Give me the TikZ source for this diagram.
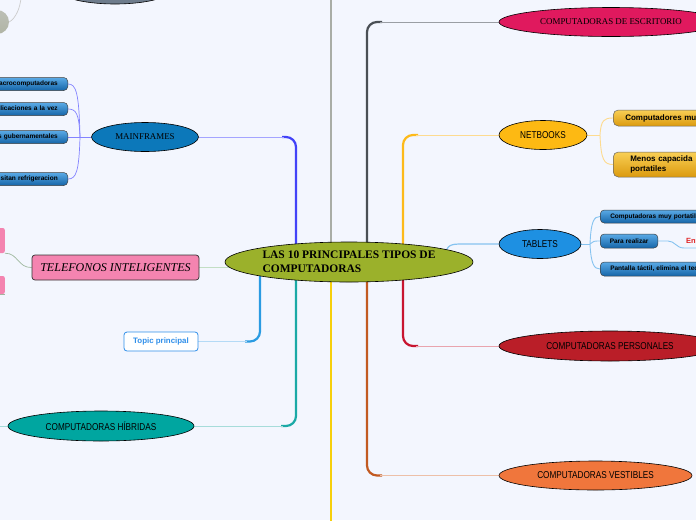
\documentclass[tikz,border=0pt]{standalone}
\usepackage{fontspec}
\setmainfont{Liberation Serif}
\setsansfont{Liberation Sans}
\newfontfamily\condfont[FakeStretch=0.82]{Liberation Sans}
\usetikzlibrary{shapes.geometric}
\definecolor{bgc}{HTML}{F3F6FE}
\definecolor{cenC}{HTML}{9BB12B}
\definecolor{mfC}{HTML}{0C78BA}
\definecolor{bxTop}{HTML}{5AAAE6}
\definecolor{bxBot}{HTML}{1565A8}
\definecolor{nbTop}{HTML}{F9CF55}
\definecolor{nbBot}{HTML}{DB9A0E}
\definecolor{pinkC}{HTML}{F484B0}
\definecolor{topicC}{HTML}{2E8EEA}
\definecolor{hybC}{HTML}{00A6A0}
\definecolor{escC}{HTML}{E0195E}
\definecolor{nbC}{HTML}{FDB913}
\definecolor{tabC}{HTML}{1E90E2}
\definecolor{perC}{HTML}{BA1E28}
\definecolor{vesC}{HTML}{F0763C}
\definecolor{slateC}{HTML}{6E7C8C}
\definecolor{olvC}{HTML}{A0A496}
\definecolor{lMf}{HTML}{4242F8}
\definecolor{lMfL}{HTML}{A4A4FF}
\definecolor{lGray}{HTML}{A9ADA6}
\definecolor{lDark}{HTML}{4A4F55}
\definecolor{lDarkL}{HTML}{9A9EA4}
\definecolor{lNb}{HTML}{FDBA1A}
\definecolor{lNbL}{HTML}{FDDB90}
\definecolor{lTab}{HTML}{86C3F0}
\definecolor{lPer}{HTML}{C81530}
\definecolor{lPerL}{HTML}{E9A4AE}
\definecolor{lVes}{HTML}{C25A22}
\definecolor{lVesL}{HTML}{EDC0A8}
\definecolor{lYel}{HTML}{F6CF0C}
\definecolor{lTeal}{HTML}{1AA9A6}
\definecolor{lTealL}{HTML}{A6DCDA}
\definecolor{lTop}{HTML}{2A9BE2}
\definecolor{lTopL}{HTML}{B4DAF6}
\definecolor{lTel}{HTML}{C2DEC4}
\definecolor{entC}{HTML}{E02020}
\pgfdeclarelayer{bgl}
\pgfdeclarelayer{lines}
\pgfsetlayers{bgl,lines,main}
\begin{document}
\begin{tikzpicture}[x=1pt,y=-1pt,
  ell/.style={ellipse,draw=black,line width=0.6pt,inner sep=0pt},
  serl/.style={font=\fontsize{8.9}{10}\selectfont},
  condl/.style={font=\condfont\fontsize{10}{11}\selectfont},
  bluebox/.style={rounded corners=4pt,draw=black!75,line width=0.5pt,top color=bxTop,bottom color=bxBot,inner ysep=0pt,minimum height=13pt,font=\sffamily\bfseries\fontsize{6.5}{7}\selectfont},
  nbbox/.style={rounded corners=5pt,draw=black!60,line width=0.5pt,top color=nbTop,bottom color=nbBot,inner ysep=0pt,font=\sffamily\bfseries\fontsize{8}{10}\selectfont,text width=110pt,align=left,anchor=west},
  branch/.style={line width=2.2pt,rounded corners=10pt},
  tail/.style={line width=1pt},
  thin/.style={line width=0.7pt}]
\useasboundingbox (0,0) rectangle (696,520);
\begin{scope}
\clip (0,0) rectangle (696,520);
% partial nodes at the top
\node[ell,fill=slateC,minimum width=118pt,minimum height=32pt] (topn) at (115,-12) {};
\node[circle,draw=none,inner sep=0pt,minimum size=24pt,top color=olvC!70,bottom color=olvC!110!black] (olv) at (-3,22) {};
% central
\node[ell,fill=cenC,minimum width=248pt,minimum height=40pt,align=left,font=\bfseries\fontsize{11.5}{14}\selectfont] (c) at (349,262) {LAS 10 PRINCIPALES TIPOS DE\\COMPUTADORAS};
% left side
\node[ell,fill=mfC,minimum width=107pt,minimum height=29pt,serl] (mf) at (145,137) {MAINFRAMES};
\node[bluebox,anchor=east,text width=80pt,align=right,inner xsep=10pt] (m1) at (68,84) {acrocomputadoras};
\node[bluebox,anchor=east,text width=80pt,align=right,inner xsep=10pt] (m2) at (68,109) {plicaciones a la vez};
\node[bluebox,anchor=east,text width=80pt,align=right,inner xsep=10pt] (m3) at (68,137) {s gubernamentales};
\node[bluebox,anchor=east,text width=80pt,align=right,inner xsep=10pt] (m4) at (68,179) {sitan refrigeracion};
\node[rectangle,rounded corners=3pt,draw=black!80,line width=0.7pt,fill=pinkC,minimum width=167pt,minimum height=25pt,inner sep=0pt,font=\itshape\fontsize{12}{13}\selectfont] (tel) at (115.5,267.5) {TELEFONOS INTELIGENTES};
\node[rectangle,rounded corners=2pt,fill=pinkC,minimum width=20pt,minimum height=25pt,inner sep=0pt,anchor=east] (p1) at (5,240.5) {};
\node[rectangle,rounded corners=2pt,fill=pinkC,minimum width=20pt,minimum height=18pt,inner sep=0pt,anchor=east] (p2) at (5,285) {};
\node[rectangle,rounded corners=3pt,draw=topicC,line width=0.8pt,fill=white,minimum width=74pt,minimum height=19pt,inner sep=0pt,text=topicC,font=\sffamily\bfseries\fontsize{7.9}{8}\selectfont] (topic) at (161,341.5) {Topic principal};
\node[ell,fill=hybC,minimum width=186pt,minimum height=30pt,condl] (hyb) at (101,426) {COMPUTADORAS HÍBRIDAS};
% right side
\node[ell,fill=escC,minimum width=224pt,minimum height=29pt,serl] (esc) at (611,22) {COMPUTADORAS DE ESCRITORIO};
\node[ell,fill=nbC,minimum width=88pt,minimum height=29pt,condl] (nb) at (543,135) {NETBOOKS};
\node[nbbox,minimum height=16pt,inner xsep=12pt] (n1) at (613,118) {Computadores mu};
\node[nbbox,minimum height=25pt,inner xsep=17pt] (n2) at (613,164.5) {Menos capacida\\portatiles};
\node[ell,fill=tabC,minimum width=82pt,minimum height=29pt,condl] (tab) at (540,244) {TABLETS};
\node[bluebox,anchor=west,text width=110pt,align=left,inner xsep=10pt] (t1) at (600,216.5) {Computadoras muy portatile};
\node[bluebox,anchor=west,inner xsep=9.5pt,minimum height=14pt] (t2) at (600,241) {Para realizar};
\node[bluebox,anchor=west,text width=110pt,align=left,inner xsep=10pt,minimum height=14pt] (t3) at (600,269) {Pantalla táctil, elimina el tec};
\node[anchor=west,inner sep=0pt,text=entC,font=\sffamily\bfseries\fontsize{7.5}{8}\selectfont] (ent) at (686,240.5) {Ent};
\coordinate (entline) at (700,248);
\node[ell,fill=perC,minimum width=222pt,minimum height=30pt,condl] (per) at (610,346) {COMPUTADORAS PERSONALES};
\node[ell,fill=vesC,minimum width=193pt,minimum height=29pt,condl] (ves) at (595.5,475.5) {COMPUTADORAS VESTIBLES};
\coordinate (topend) at (331,-5);
\coordinate (botend) at (331,525);
\coordinate (hybend) at (-5,426);
\coordinate (xa) at (260,0);
\coordinate (xb) at (296,0);
\coordinate (xc) at (331,0);
\coordinate (xd) at (367,0);
\coordinate (xe) at (403,0);
\end{scope}
\begin{pgfonlayer}{bgl}
\fill[bgc] (0,0) rectangle (696,520);
\end{pgfonlayer}
\begin{pgfonlayer}{lines}
\begin{scope}
\clip (0,0) rectangle (696,520);
% main branches
\draw[branch,lGray] (topend) -- (xc|-c.center);
\draw[branch,lYel] (xc|-c.center) -- (botend);
\draw[branch,lMf] (282,137) -- (296,137) -- (xb|-c.center);
\draw[tail,lMfL] (mf.east) -- (284,137);
\draw[branch,lDark] (382,22) -- (367,22) -- (xd|-c.center);
\draw[tail,lDarkL] (380,22) -- (esc.west);
\draw[branch,lNb] (418,135) -- (403,135) -- (xe|-c.center);
\draw[tail,lNbL] (416,135) -- (nb.west);
\draw[line width=1.2pt,lTab] (445,256) .. controls (447,245) and (450,244) .. (462,244) -- (tab.west);
\draw[branch,lPer] (xe|-c.center) -- (403,346) -- (418,346);
\draw[tail,lPerL] (416,346) -- (per.west);
\draw[branch,lVes] (xd|-c.center) -- (367,475.5) -- (382,475.5);
\draw[tail,lVesL] (380,475.5) -- (ves.west);
\draw[branch,lTeal] (xb|-c.center) -- (296,426) -- (281,426);
\draw[tail,lTealL] (283,426) -- (hyb.east);
\draw[branch,lTop] (xa|-c.center) -- (260,341.5) -- (245,341.5);
\draw[tail,lTopL] (247,341.5) -- (topic.east);
\draw[line width=1.5pt,lTel] (c.center|-tel.east) -- (tel.east);
% children connectors
\draw[thin,lMfL!80!blue] (mf.west) -- (80,137);
\draw[thin,lMfL!80!blue] (80,137) .. controls (79,92) and (76,84) .. (m1.east);
\draw[thin,lMfL!80!blue] (80,137) .. controls (79,113) and (76,109) .. (m2.east);
\draw[thin,lMfL!80!blue] (80,137) -- (m3.east);
\draw[thin,lMfL!80!blue] (80,137) .. controls (79,172) and (76,179) .. (m4.east);
\draw[thin,lTel!80!green!60!black!60] (tel.west) .. controls (18,268) and (18,253) .. (p1.south east);
\draw[thin,lTel!80!green!60!black!60] (p2.south west) -- (p2.south east);
\draw[tail,lTealL] (hybend) -- (hyb.west);
\draw[line width=0.9pt,lNbL] (nb.east) -- (600,135);
\draw[line width=0.9pt,lNbL] (600,135) .. controls (601,120) and (604,118) .. (n1.west);
\draw[line width=0.9pt,lNbL] (600,135) .. controls (601,160) and (604,164.5) .. (n2.west);
\draw[line width=0.9pt,lTab] (tab.east) -- (590,244);
\draw[line width=0.9pt,lTab] (590,244) .. controls (591,221) and (594,216.5) .. (t1.west);
\draw[line width=0.9pt,lTab] (590,244) .. controls (592,241) and (595,241) .. (t2.west);
\draw[line width=0.9pt,lTab] (590,244) .. controls (591,264) and (594,269) .. (t3.west);
\draw[line width=0.9pt,lTab] (t2.east) -- (668,241) .. controls (675,241) and (676,248) .. (684,248) -- (entline);
\draw[thin,black!20] (olv.east) .. controls (16,18) and (20,8) .. (21,-2);
\end{scope}
\end{pgfonlayer}
\end{tikzpicture}
\end{document}
